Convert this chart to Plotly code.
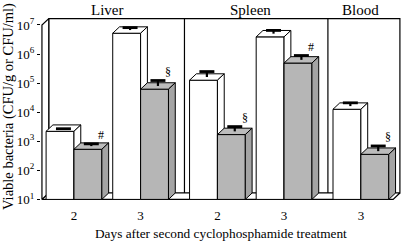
import numpy as np
import plotly.graph_objects as go

# ---------------- data ----------------
organs = ["Liver", "Liver", "Spleen", "Spleen", "Blood"]
days = ["2", "3", "2", "3", "3"]
control_cfu = [2200, 5.2e6, 1.26e5, 3.9e6, 1.26e4]
control_err = [500, 2.9e6, 1.24e5, 2.6e6, 8.4e3]
treated_cfu = [530, 6.2e4, 1.7e3, 4.9e5, 355]
treated_err = [285, 6.1e4, 1.5e3, 4.0e5, 335]
treated_sig = ["#", "§", "§", "#", "§"]
panel_names = ["Liver", "Spleen", "Blood"]
y_tick_exponents = [1, 2, 3, 4, 5, 6, 7]

# ---------------- layout helpers ----------------
FONT = "Liberation Serif, Times New Roman, serif"
STEP, GAP = 0.98, 0.15
W = 0.41            # bar width (x units)
DX, DY = 0.10, 0.22  # depth offsets (x units, decades)
XL, XR = 0.529, 5.794
YMIN_EXP, YMAX_EXP = 1, 7

pos = []
cur = 1.0
prev = None
for org in organs:
    if prev is not None:
        cur += STEP + (GAP if org != prev else 0)
    pos.append(cur)
    prev = org

fig = go.Figure()


def poly(xs, ys, fill, lw=1.0):
    fig.add_trace(go.Scatter(
        x=list(xs) + [xs[0]], y=list(ys) + [ys[0]], mode="lines",
        fill="toself", fillcolor=fill, line=dict(color="black", width=lw),
        hoverinfo="skip", showlegend=False))


def line(xs, ys, lw=1.0):
    fig.add_trace(go.Scatter(
        x=xs, y=ys, mode="lines", line=dict(color="black", width=lw),
        hoverinfo="skip", showlegend=False))


k = 10 ** DY
ybot = 10 ** YMIN_EXP
ytop = 10 ** YMAX_EXP

# back wall, floor, left wall
poly([XL + DX, XR, XR, XL + DX], [ybot * k, ybot * k, ytop * k, ytop * k], "white", 1.2)
poly([XL, XR - DX, XR, XL + DX], [ybot, ybot, ybot * k, ybot * k], "white", 1.2)
poly([XL, XL + DX, XL + DX, XL], [ybot, ybot * k, ytop * k, ytop], "white", 1.2)

# panel dividers on the back wall
for i in range(1, len(organs)):
    if organs[i] != organs[i - 1]:
        xd = (pos[i - 1] + W + DX + pos[i] - W) / 2 + 0.03
        line([xd, xd], [ybot * k, ytop * k], 1.2)


def bar3d(x0, x1, v, front, top, side):
    vt = v * k
    poly([x0, x1, x1, x0], [ybot, ybot, v, v], front)
    poly([x0, x1, x1 + DX, x0 + DX], [v, v, vt, vt], top)
    poly([x1, x1 + DX, x1 + DX, x1], [ybot, ybot * k, vt, v], side)


def errbar(x0, x1, v, e):
    xc = (x0 + x1) / 2 + DX / 2
    cw = 0.11
    line([xc, xc], [v * 10 ** (DY / 2), v + e], 2.2)
    line([xc - cw, xc + cw], [v + e, v + e], 2.8)


for i in range(len(organs)):
    p = pos[i]
    bar3d(p - W, p, control_cfu[i], "white", "white", "white")
    errbar(p - W, p, control_cfu[i], control_err[i])
    bar3d(p, p + W, treated_cfu[i], "#b6b6b6", "#bcbcbc", "#a4a4a4")
    errbar(p, p + W, treated_cfu[i], treated_err[i])

annotations = []
# significance markers
for i in range(len(organs)):
    xc = pos[i] + W / 2 + DX / 2
    annotations.append(dict(
        x=xc, y=np.log10(treated_cfu[i] + treated_err[i]), xref="x", yref="y",
        text=treated_sig[i], showarrow=False, xshift=10, yshift=9,
        font=dict(family=FONT, size=12, color="black")))

# panel titles, centred over each organ's bar groups
for name in panel_names:
    px = [p for p, o in zip(pos, organs) if o == name]
    annotations.append(dict(
        x=float(np.mean(px)), y=1.046, xref="x", yref="paper",
        text=name, showarrow=False, yanchor="middle",
        font=dict(family=FONT, size=15, color="black")))

# axis titles
annotations.append(dict(
    x=0.5, y=-0.182, xref="paper", yref="paper", yanchor="middle",
    text="Days after second cyclophosphamide treatment", showarrow=False,
    font=dict(family=FONT, size=13.3, color="black")))
annotations.append(dict(
    x=0, y=0.5, xref="paper", yref="paper", xanchor="center", yanchor="middle",
    xshift=-33, yshift=2, textangle=-90,
    text="Viable bacteria (CFU/g or CFU/ml)", showarrow=False,
    font=dict(family=FONT, size=14.5, color="black")))

fig.update_layout(
    width=404, height=245,
    margin=dict(l=41, r=3, t=18, b=45),
    paper_bgcolor="white", plot_bgcolor="white",
    showlegend=False,
    annotations=annotations,
    xaxis=dict(range=[0.515, 5.81], tickvals=pos, ticktext=days,
               showgrid=False, zeroline=False, showline=False, ticks="",
               ticklabelstandoff=6,
               tickfont=dict(family=FONT, size=13, color="black")),
    yaxis=dict(type="log", range=[0.98, 7.24],
               tickvals=[10 ** e for e in y_tick_exponents],
               ticktext=[f"10<sup>{e}</sup>" for e in y_tick_exponents],
               showgrid=False, zeroline=False, showline=False,
               ticks="outside", ticklen=3, tickcolor="black",
               tickfont=dict(family=FONT, size=13, color="black")),
)

# remove the browser's default 8px body margin so the figure fills the window
fig.write_html(
    "out.html",
    config={"displayModeBar": False, "staticPlot": True},
    post_script="document.body.style.margin='0';document.body.style.overflow='hidden';",
)
